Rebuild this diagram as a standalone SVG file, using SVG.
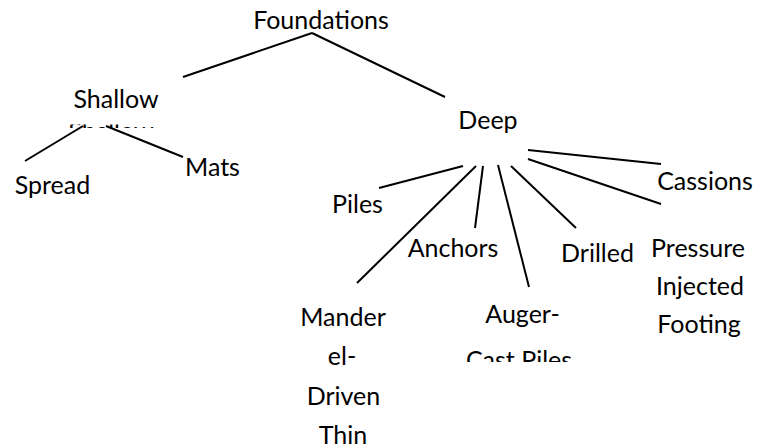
<svg xmlns="http://www.w3.org/2000/svg" width="773" height="447" viewBox="0 0 773 447">
<style>
text{font-family:Lato,"Liberation Sans",sans-serif;font-size:25px;fill:#000;text-anchor:middle}
.c line{stroke:#000;stroke-width:2;stroke-linecap:butt}
</style>
<defs>
<clipPath id="ghostClip"><rect x="0" y="124.5" width="773" height="3.5"/></clipPath>
<clipPath id="augerClip"><rect x="440" y="300" width="160" height="62"/></clipPath>
<clipPath id="manderClip"><rect x="280" y="300" width="140" height="147"/></clipPath>
</defs>
<rect width="773" height="447" fill="#fff"/>
<g class="c" id="connectors">
<line x1="312" y1="33" x2="183" y2="77"/>
<line x1="312" y1="33" x2="445" y2="97"/>
<line x1="83" y1="126" x2="25" y2="161"/>
<line x1="106" y1="126" x2="183" y2="157"/>
<line x1="463" y1="166" x2="379" y2="188"/>
<line x1="476" y1="166" x2="357" y2="283"/>
<line x1="483" y1="166" x2="475" y2="228"/>
<line x1="498" y1="165" x2="529" y2="287"/>
<line x1="511" y1="166" x2="576" y2="228"/>
<line x1="528" y1="150" x2="661" y2="164"/>
<line x1="528" y1="159" x2="661" y2="204"/>
</g>
<g id="foundations"><text x="321" y="29">Foundations</text></g>
<g id="shallow"><text x="116" y="108">Shallow</text>
<text x="111" y="140" clip-path="url(#ghostClip)">Shallow</text></g>
<g id="spread"><text x="52.5" y="194">Spread</text></g>
<g id="mats"><text x="212.5" y="176">Mats</text></g>
<g id="deep"><text x="488" y="129">Deep</text></g>
<g id="piles"><text x="357.5" y="213">Piles</text></g>
<g id="mandrel"><g clip-path="url(#manderClip)">
<text x="343" y="326">Mander</text>
<text x="342" y="365">el-</text>
<text x="343.5" y="405">Driven</text>
<text x="343" y="444">Thin</text></g></g>
<g id="anchors"><text x="453" y="257">Anchors</text></g>
<g id="auger"><g clip-path="url(#augerClip)">
<text x="522.5" y="323">Auger-</text>
<text x="519" y="369">Cast Piles</text></g></g>
<g id="drilled"><text x="597.5" y="262">Drilled</text></g>
<g id="pressure"><text x="698" y="257">Pressure</text>
<text x="700" y="295">Injected</text>
<text x="699" y="333">Footing</text></g>
<g id="cassions"><text x="705" y="190">Cassions</text></g>
</svg>
